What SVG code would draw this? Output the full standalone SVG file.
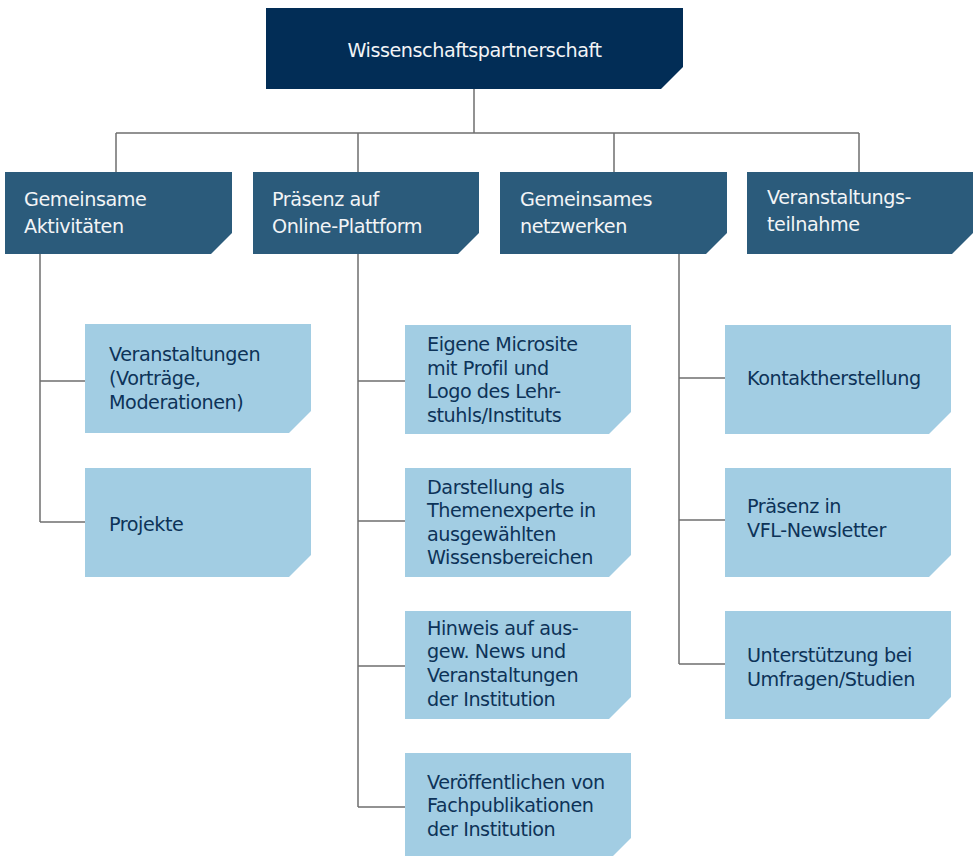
<svg xmlns="http://www.w3.org/2000/svg" width="975" height="856" viewBox="0 0 975 856">
<style>
text{font-family:"DejaVu Sans","Verdana",sans-serif;font-size:19.2px;letter-spacing:-0.45px}
.top{fill:#022d56}
.l2{fill:#2b5b7b}
.leaf{fill:#a2cde3}
.tw{fill:#f2f4f6}
.td{fill:#0d3358}
.conn{stroke:#6f6f6f;stroke-width:1.5;fill:none}
</style>
<rect width="975" height="856" fill="#ffffff"/>
<g id="connectors" class="conn">
<path d="M474,89 V133 M116,133 H859 M116,133 V172 M358,133 V172 M614,133 V172 M859,133 V172"/>
<path d="M40,254 V522 M40,381 H85 M40,522 H85"/>
<path d="M358,254 V807 M358,381 H405 M358,521 H405 M358,666 H405 M358,807 H405"/>
<path d="M679,254 V664 M679,378 H725 M679,520 H725 M679,664 H725"/>
</g>
<g id="root">
<path class="top" d="M266,8 H683 V67 L661,89 H266 Z"/>
<text class="tw" x="474.5" y="57" text-anchor="middle">Wissenschaftspartnerschaft</text>
</g>
<g id="n-aktivitaeten">
<path class="l2" d="M5,172 H232 V233 L211,254 H5 Z"/>
<text class="tw" x="24" y="206">Gemeinsame</text>
<text class="tw" x="24" y="233">Aktivitäten</text>
</g>
<g id="n-praesenz">
<path class="l2" d="M253,172 H479 V233 L458,254 H253 Z"/>
<text class="tw" x="272" y="206">Präsenz auf</text>
<text class="tw" x="272" y="233">Online-Plattform</text>
</g>
<g id="n-netzwerken">
<path class="l2" d="M500,172 H727 V233 L706,254 H500 Z"/>
<text class="tw" x="520" y="206">Gemeinsames</text>
<text class="tw" x="520" y="233">netzwerken</text>
</g>
<g id="n-teilnahme">
<path class="l2" d="M747,172 H973 V233 L952,254 H747 Z"/>
<text class="tw" x="767" y="204">Veranstaltungs-</text>
<text class="tw" x="767" y="231">teilnahme</text>
</g>
<g id="l-veranstaltungen">
<path class="leaf" d="M85,324 H311 V411 L289,433 H85 Z"/>
<text class="td" x="109" y="361">Veranstaltungen</text>
<text class="td" x="109" y="385">(Vorträge,</text>
<text class="td" x="109" y="409">Moderationen)</text>
</g>
<g id="l-projekte">
<path class="leaf" d="M85,468 H311 V555 L289,577 H85 Z"/>
<text class="td" x="109" y="531">Projekte</text>
</g>
<g id="l-microsite">
<path class="leaf" d="M405,325 H631 V412 L609,434 H405 Z"/>
<text class="td" x="427" y="351">Eigene Microsite</text>
<text class="td" x="427" y="374.5">mit Profil und</text>
<text class="td" x="427" y="398">Logo des Lehr-</text>
<text class="td" x="427" y="421.5">stuhls/Instituts</text>
</g>
<g id="l-themenexperte">
<path class="leaf" d="M405,468 H631 V555 L609,577 H405 Z"/>
<text class="td" x="427" y="493.5">Darstellung als</text>
<text class="td" x="427" y="517">Themenexperte in</text>
<text class="td" x="427" y="540.5">ausgewählten</text>
<text class="td" x="427" y="564">Wissensbereichen</text>
</g>
<g id="l-hinweis">
<path class="leaf" d="M405,611 H631 V697 L609,719 H405 Z"/>
<text class="td" x="427" y="634.5">Hinweis auf aus-</text>
<text class="td" x="427" y="658">gew. News und</text>
<text class="td" x="427" y="682">Veranstaltungen</text>
<text class="td" x="427" y="706">der Institution</text>
</g>
<g id="l-fachpublikationen">
<path class="leaf" d="M405,753 H631 V838 L609,860 H405 Z"/>
<text class="td" x="427" y="788.5">Veröffentlichen von</text>
<text class="td" x="427" y="812">Fachpublikationen</text>
<text class="td" x="427" y="836">der Institution</text>
</g>
<g id="l-kontakt">
<path class="leaf" d="M725,325 H951 V412 L929,434 H725 Z"/>
<text class="td" x="747" y="384.5">Kontaktherstellung</text>
</g>
<g id="l-newsletter">
<path class="leaf" d="M725,468 H951 V555 L929,577 H725 Z"/>
<text class="td" x="747" y="513">Präsenz in</text>
<text class="td" x="747" y="537">VFL-Newsletter</text>
</g>
<g id="l-umfragen">
<path class="leaf" d="M725,611 H951 V697 L929,719 H725 Z"/>
<text class="td" x="747" y="662">Unterstützung bei</text>
<text class="td" x="747" y="685.5">Umfragen/Studien</text>
</g>
</svg>
